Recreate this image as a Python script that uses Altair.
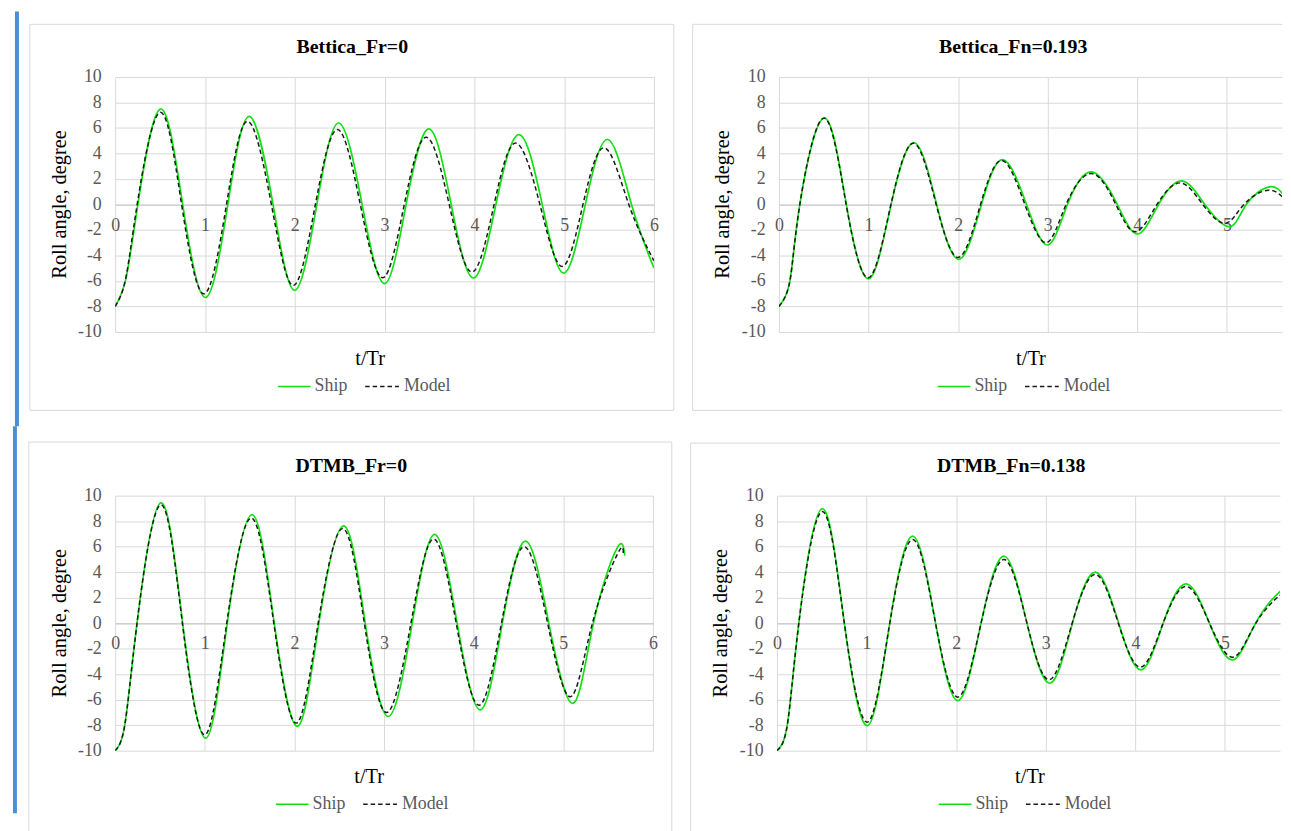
import altair as alt
import pandas as pd

# ---------------- data ----------------
# Bettica_Fr=0
bf0_ship_t = [0, 0.117, 0.253, 0.503, 0.752, 1.006, 1.255, 1.494, 1.758, 2.0, 2.246, 2.49, 2.75, 3.0, 3.24, 3.494, 3.742, 3.99, 4.24, 4.498, 4.756, 4.996, 5.236, 5.487, 5.75, 6.0]
bf0_ship_y = [-8, -5.9, 0, 7.48, 0, -7.30, 0, 6.91, 0, -6.73, 0, 6.39, 0, -6.21, 0, 5.92, 0, -5.77, 0, 5.48, 0, -5.38, 0, 5.09, 0, -4.99]
bf0_model_t = [0, 0.115, 0.245, 0.50, 0.74, 0.99, 1.24, 1.475, 1.74, 1.985, 2.23, 2.477, 2.73, 2.98, 3.22, 3.465, 3.72, 3.974, 4.22, 4.461, 4.73, 4.978, 5.21, 5.45, 5.72, 6.0]
bf0_model_y = [-8, -5.9, 0, 7.22, 0, -7.01, 0, 6.52, 0, -6.36, 0, 5.87, 0, -5.75, 0, 5.27, 0, -5.30, 0, 4.81, 0, -4.86, 0, 4.44, 0, -4.42]

# Bettica_Fn=0.193
bfn_ship_t = [0, 0.122, 0.233, 0.504, 0.752, 1.004, 1.252, 1.511, 1.76, 2.011, 2.26, 2.50, 2.763, 3.0, 3.22, 3.49, 3.776, 4.005, 4.237, 4.496, 4.754, 5.03, 5.216, 5.474, 5.637]
bfn_ship_y = [-8, -6.0, 0, 6.77, 0, -5.83, 0, 4.84, 0, -4.30, 0, 3.52, 0, -3.18, 0, 2.55, 0, -2.32, 0, 1.85, 0, -1.74, 0, 1.38, 0.72]
bfn_model_t = [0, 0.122, 0.233, 0.50, 0.75, 1.0, 1.25, 1.505, 1.755, 2.005, 2.25, 2.49, 2.745, 2.985, 3.205, 3.49, 3.76, 3.98, 4.22, 4.48, 4.73, 4.98, 5.19, 5.46, 5.637]
bfn_model_y = [-8, -6.0, 0, 6.77, 0, -5.75, 0, 4.80, 0, -4.15, 0, 3.45, 0, -3.0, 0, 2.42, 0, -2.14, 0, 1.69, 0, -1.48, 0, 1.12, 0.45]

# DTMB_Fr=0
df0_ship_t = [0, 0.107, 0.244, 0.509, 0.753, 1.011, 1.251, 1.528, 1.775, 2.033, 2.273, 2.55, 2.79, 3.048, 3.314, 3.565, 3.815, 4.074, 4.32, 4.579, 4.838, 5.107, 5.336, 5.60, 5.686]
df0_ship_y = [-10, -8.0, 0, 9.43, 0, -9.02, 0, 8.51, 0, -8.09, 0, 7.63, 0, -7.32, 0, 6.96, 0, -6.80, 0, 6.44, 0, -6.29, 0, 5.88, 5.30]
df0_model_t = [0, 0.107, 0.244, 0.507, 0.75, 1.0, 1.245, 1.52, 1.77, 2.02, 2.265, 2.54, 2.78, 3.03, 3.30, 3.555, 3.805, 4.06, 4.31, 4.565, 4.825, 5.08, 5.325, 5.61, 5.668]
df0_model_y = [-10, -8.0, 0, 9.28, 0, -8.76, 0, 8.25, 0, -7.84, 0, 7.42, 0, -7.01, 0, 6.60, 0, -6.44, 0, 6.0, 0, -5.77, 0, 5.50, 5.41]

# DTMB_Fn=0.138
dfn_ship_t = [0, 0.115, 0.244, 0.504, 0.752, 1.011, 1.259, 1.519, 1.77, 2.022, 2.278, 2.537, 2.79, 3.048, 3.298, 3.556, 3.814, 4.064, 4.311, 4.569, 4.827, 5.085, 5.343, 5.60, 5.637]
dfn_ship_y = [-10, -8.0, 0, 8.97, 0, -8.03, 0, 6.82, 0, -6.07, 0, 5.25, 0, -4.71, 0, 4.0, 0, -3.66, 0, 3.08, 0, -2.88, 0, 2.38, 2.36]
dfn_model_t = [0, 0.115, 0.244, 0.504, 0.752, 1.011, 1.259, 1.519, 1.77, 2.022, 2.278, 2.537, 2.79, 3.04, 3.295, 3.556, 3.81, 4.06, 4.31, 4.569, 4.827, 5.09, 5.345, 5.61, 5.637]
dfn_model_y = [-10, -8.0, 0, 8.76, 0, -7.76, 0, 6.56, 0, -5.80, 0, 4.99, 0, -4.44, 0, 3.82, 0, -3.45, 0, 2.88, 0, -2.67, 0, 2.17, 2.16]

titles = ["Bettica_Fr=0", "Bettica_Fn=0.193", "DTMB_Fr=0", "DTMB_Fn=0.138"]
y_ticks = list(range(-10, 11, 2))
x_ticks_full = [0, 1, 2, 3, 4, 5, 6]
x_ticks_cut = [0, 1, 2, 3, 4, 5]
series_names = ["Ship", "Model"]

# ---------------- style ----------------
FONT = "Liberation Serif"
GRID = "#d9d9d9"
LABEL = "#595959"
GREEN = "#11e011"
FRAME = "#d9d9d9"
BAR = "#4a8fd8"
H = 257
XCUT = 5.615          # visible part of the right-hand panels
WR = 507              # plot width of the right-hand panels
LABEL_EXPR = "datum.value < 0 ? '-' + abs(datum.value) : '' + datum.value"


def one():
    return alt.Data(values=[{"a": 0}])


def rule(x1, x2, y1, y2, color, width=1.0, dash=None):
    kw = dict(color=color, strokeWidth=width)
    if dash:
        kw["strokeDash"] = dash
    enc = dict(x=alt.value(x1), y=alt.value(y1))
    if x2 is not None:
        enc["x2"] = alt.value(x2)
    if y2 is not None:
        enc["y2"] = alt.value(y2)
    return alt.Chart(one()).mark_rule(**kw).encode(**enc)


def text(s, x, y, size, color="black", bold=False, angle=None, align="center"):
    kw = dict(text=s, font=FONT, fontSize=size, color=color, align=align,
              baseline="middle", fontWeight="bold" if bold else "normal")
    if angle is not None:
        kw["angle"] = angle
    return alt.Chart(one()).mark_text(**kw).encode(x=alt.value(x), y=alt.value(y))


def panel(title, st, sy, mt, my, xmax, xticks, W, g):
    df = pd.DataFrame({
        "t": st + mt,
        "y": sy + my,
        "s": [series_names[0]] * len(st) + [series_names[1]] * len(mt),
    })
    x = alt.X("t:Q", scale=alt.Scale(domain=[0, xmax], nice=False, zero=False),
              axis=alt.Axis(values=xticks, title=None, grid=True, gridColor=GRID,
                            ticks=False, tickSize=0, domainColor="#c8c8c8",
                            labelFont=FONT, labelFontSize=18, labelColor=LABEL,
                            labelPadding=12, labelFlush=False, offset=-H / 2,
                            labelExpr=LABEL_EXPR))
    y = alt.Y("y:Q", scale=alt.Scale(domain=[-10, 10], nice=False, zero=False),
              axis=alt.Axis(values=y_ticks, title=None, grid=True, gridColor=GRID,
                            ticks=False, tickSize=0, domain=False,
                            labelFont=FONT, labelFontSize=18, labelColor=LABEL,
                            labelPadding=14, labelExpr=LABEL_EXPR))
    base = alt.Chart(df)
    ship = base.transform_filter(alt.datum.s == "Ship").mark_line(
        color=GREEN, strokeWidth=1.7, interpolate="natural", clip=True).encode(x=x, y=y)
    model = base.transform_filter(alt.datum.s == "Model").mark_line(
        color="#1a1a1a", strokeWidth=1.5, strokeDash=[4.5, 3], interpolate="natural",
        clip=True).encode(x=x, y=y)

    layers = []
    # invisible rectangle that fixes the panel bounds
    bx1, bx2, by1, by2 = g["bounds"]
    layers.append(alt.Chart(one()).mark_rect(opacity=0).encode(
        x=alt.value(bx1), x2=alt.value(bx2), y=alt.value(by1), y2=alt.value(by2)))
    # frame
    fx1, fx2, fy1, fy2 = g["frame"]
    if "top" in g["sides"]:
        layers.append(rule(fx1, fx2, fy1, None, FRAME))
    if "bottom" in g["sides"]:
        layers.append(rule(fx1, fx2, fy2, None, FRAME))
    if "left" in g["sides"]:
        layers.append(rule(fx1, None, fy1, fy2, FRAME))
    if "right" in g["sides"]:
        layers.append(rule(fx2, None, fy1, fy2, FRAME))
    if g.get("bar"):
        b1, b2 = g["bar"]
        layers.append(alt.Chart(one()).mark_rect(color=BAR).encode(
            x=alt.value(b1), x2=alt.value(b2), y=alt.value(by1), y2=alt.value(by2)))
    layers += [ship, model]
    layers.append(text(title, g["tx"], -30, 20, bold=True))
    layers.append(text("Roll angle, degree", -56, H / 2, 20.5, angle=270))
    layers.append(text("t/Tr", g["xtx"], 284, 20.5))
    lx = g["lx"]
    ly = g["ly"]
    layers.append(rule(lx, lx + 33, ly, None, GREEN, 1.7))
    layers.append(text("Ship", lx + 37, ly, 18, color=LABEL, align="left"))
    layers.append(rule(lx + 88, lx + 122, ly, None, "#1a1a1a", 1.5, [4.5, 3]))
    layers.append(text("Model", lx + 127, ly, 18, color=LABEL, align="left"))
    return alt.layer(*layers).properties(width=W, height=H)


TL = panel(titles[0], bf0_ship_t, bf0_ship_y, bf0_model_t, bf0_model_y, 6, x_ticks_full, 543,
           dict(bounds=(-106, 563, -66, 352), frame=(-86, 563, -53, 336),
                sides=("top", "bottom", "left", "right"), bar=(-101, -97),
                tx=239, xtx=257, lx=164, ly=312))
TR = panel(titles[1], bfn_ship_t, bfn_ship_y, bfn_model_t, bfn_model_y, XCUT, x_ticks_cut, WR,
           dict(bounds=(-87, WR, -66, 352), frame=(-87, WR, -53, 336),
                sides=("top", "bottom", "left"),
                tx=236, xtx=254, lx=160, ly=312))
BL = panel(titles[2], df0_ship_t, df0_ship_y, df0_model_t, df0_model_y, 6, x_ticks_full, 542,
           dict(bounds=(-108, 561, -70, 320), frame=(-87, 561, -54, 400),
                sides=("top", "left", "right"), bar=(-103, -99),
                tx=238, xtx=256, lx=162, ly=311))
BR = panel(titles[3], dfn_ship_t, dfn_ship_y, dfn_model_t, dfn_model_y, XCUT, x_ticks_cut, WR,
           dict(bounds=(-87, WR, -70, 320), frame=(-87, WR, -53, 400),
                sides=("top", "left"),
                tx=236, xtx=255, lx=163, ly=311))

chart = alt.vconcat(
    alt.hconcat(TL, TR, spacing=17),
    alt.hconcat(BL, BR, spacing=17),
    spacing=0,
).properties(padding=0, background="white").configure_view(stroke=None).configure_axis(
    labelFont=FONT)

chart.save("out.html", embed_options={"renderer": "svg", "actions": False})
